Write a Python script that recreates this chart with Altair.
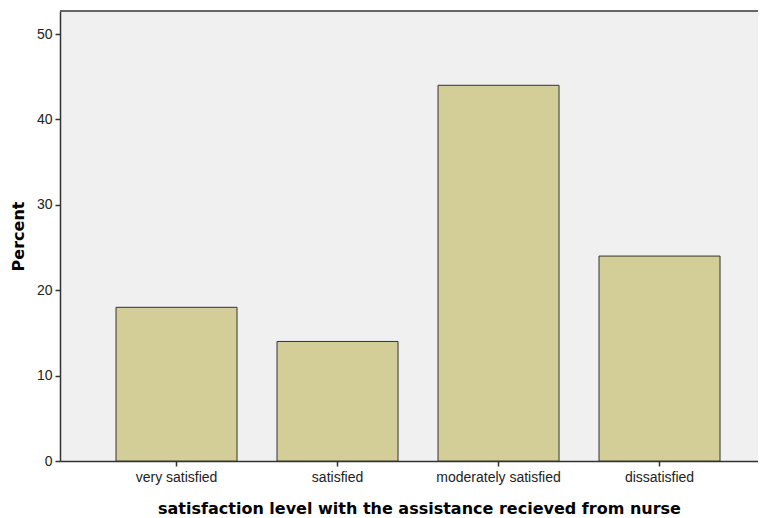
import altair as alt
import pandas as pd

categories = ["very satisfied", "satisfied", "moderately satisfied", "dissatisfied"]
percents = [18.0, 14.0, 44.0, 24.0]
y_ticks = [0, 10, 20, 30, 40, 50]

df = pd.DataFrame({"cat": categories, "pct": percents})

bars = alt.Chart(df).mark_bar(
    fill="#d3ce97", stroke="#333333", strokeWidth=1
).encode(
    x=alt.X("cat:N", sort=categories,
            scale=alt.Scale(paddingInner=0.2484, paddingOuter=0.2919, align=0.596),
            axis=alt.Axis(title="satisfaction level with the assistance recieved from nurse",
                          labelAngle=0, tickSize=5, labelPadding=4,
                          titlePadding=16, titleX=359)),
    y=alt.Y("pct:Q", scale=alt.Scale(domain=[0, 52.7], nice=False, zero=True),
            axis=alt.Axis(title="Percent", values=y_ticks, tickSize=5,
                          labelPadding=3, titlePadding=10, grid=False)),
)

top_line = alt.Chart(df).mark_rule(color="#666666", strokeWidth=2).encode(
    x=alt.value(0), x2=alt.value(698), y=alt.value(0)
)

chart = alt.layer(bars, top_line).properties(
    width=698, height=450,
    autosize=alt.AutoSizeParams(type="none"),
    padding={"left": 52, "top": 3, "right": 0, "bottom": 56},
).configure_view(
    fill="#f0f0f0", strokeWidth=0
).configure_axis(
    domainColor="#333333", tickColor="#333333", domainWidth=1.5, tickWidth=1.5,
    labelFont="Liberation Sans", labelFontSize=14, labelColor="#222222",
    titleFont="DejaVu Sans", titleFontSize=16, titleFontWeight="bold", titleColor="#000000",
    grid=False,
)

chart.save("out.html", embed_options={"renderer": "svg", "actions": False})
